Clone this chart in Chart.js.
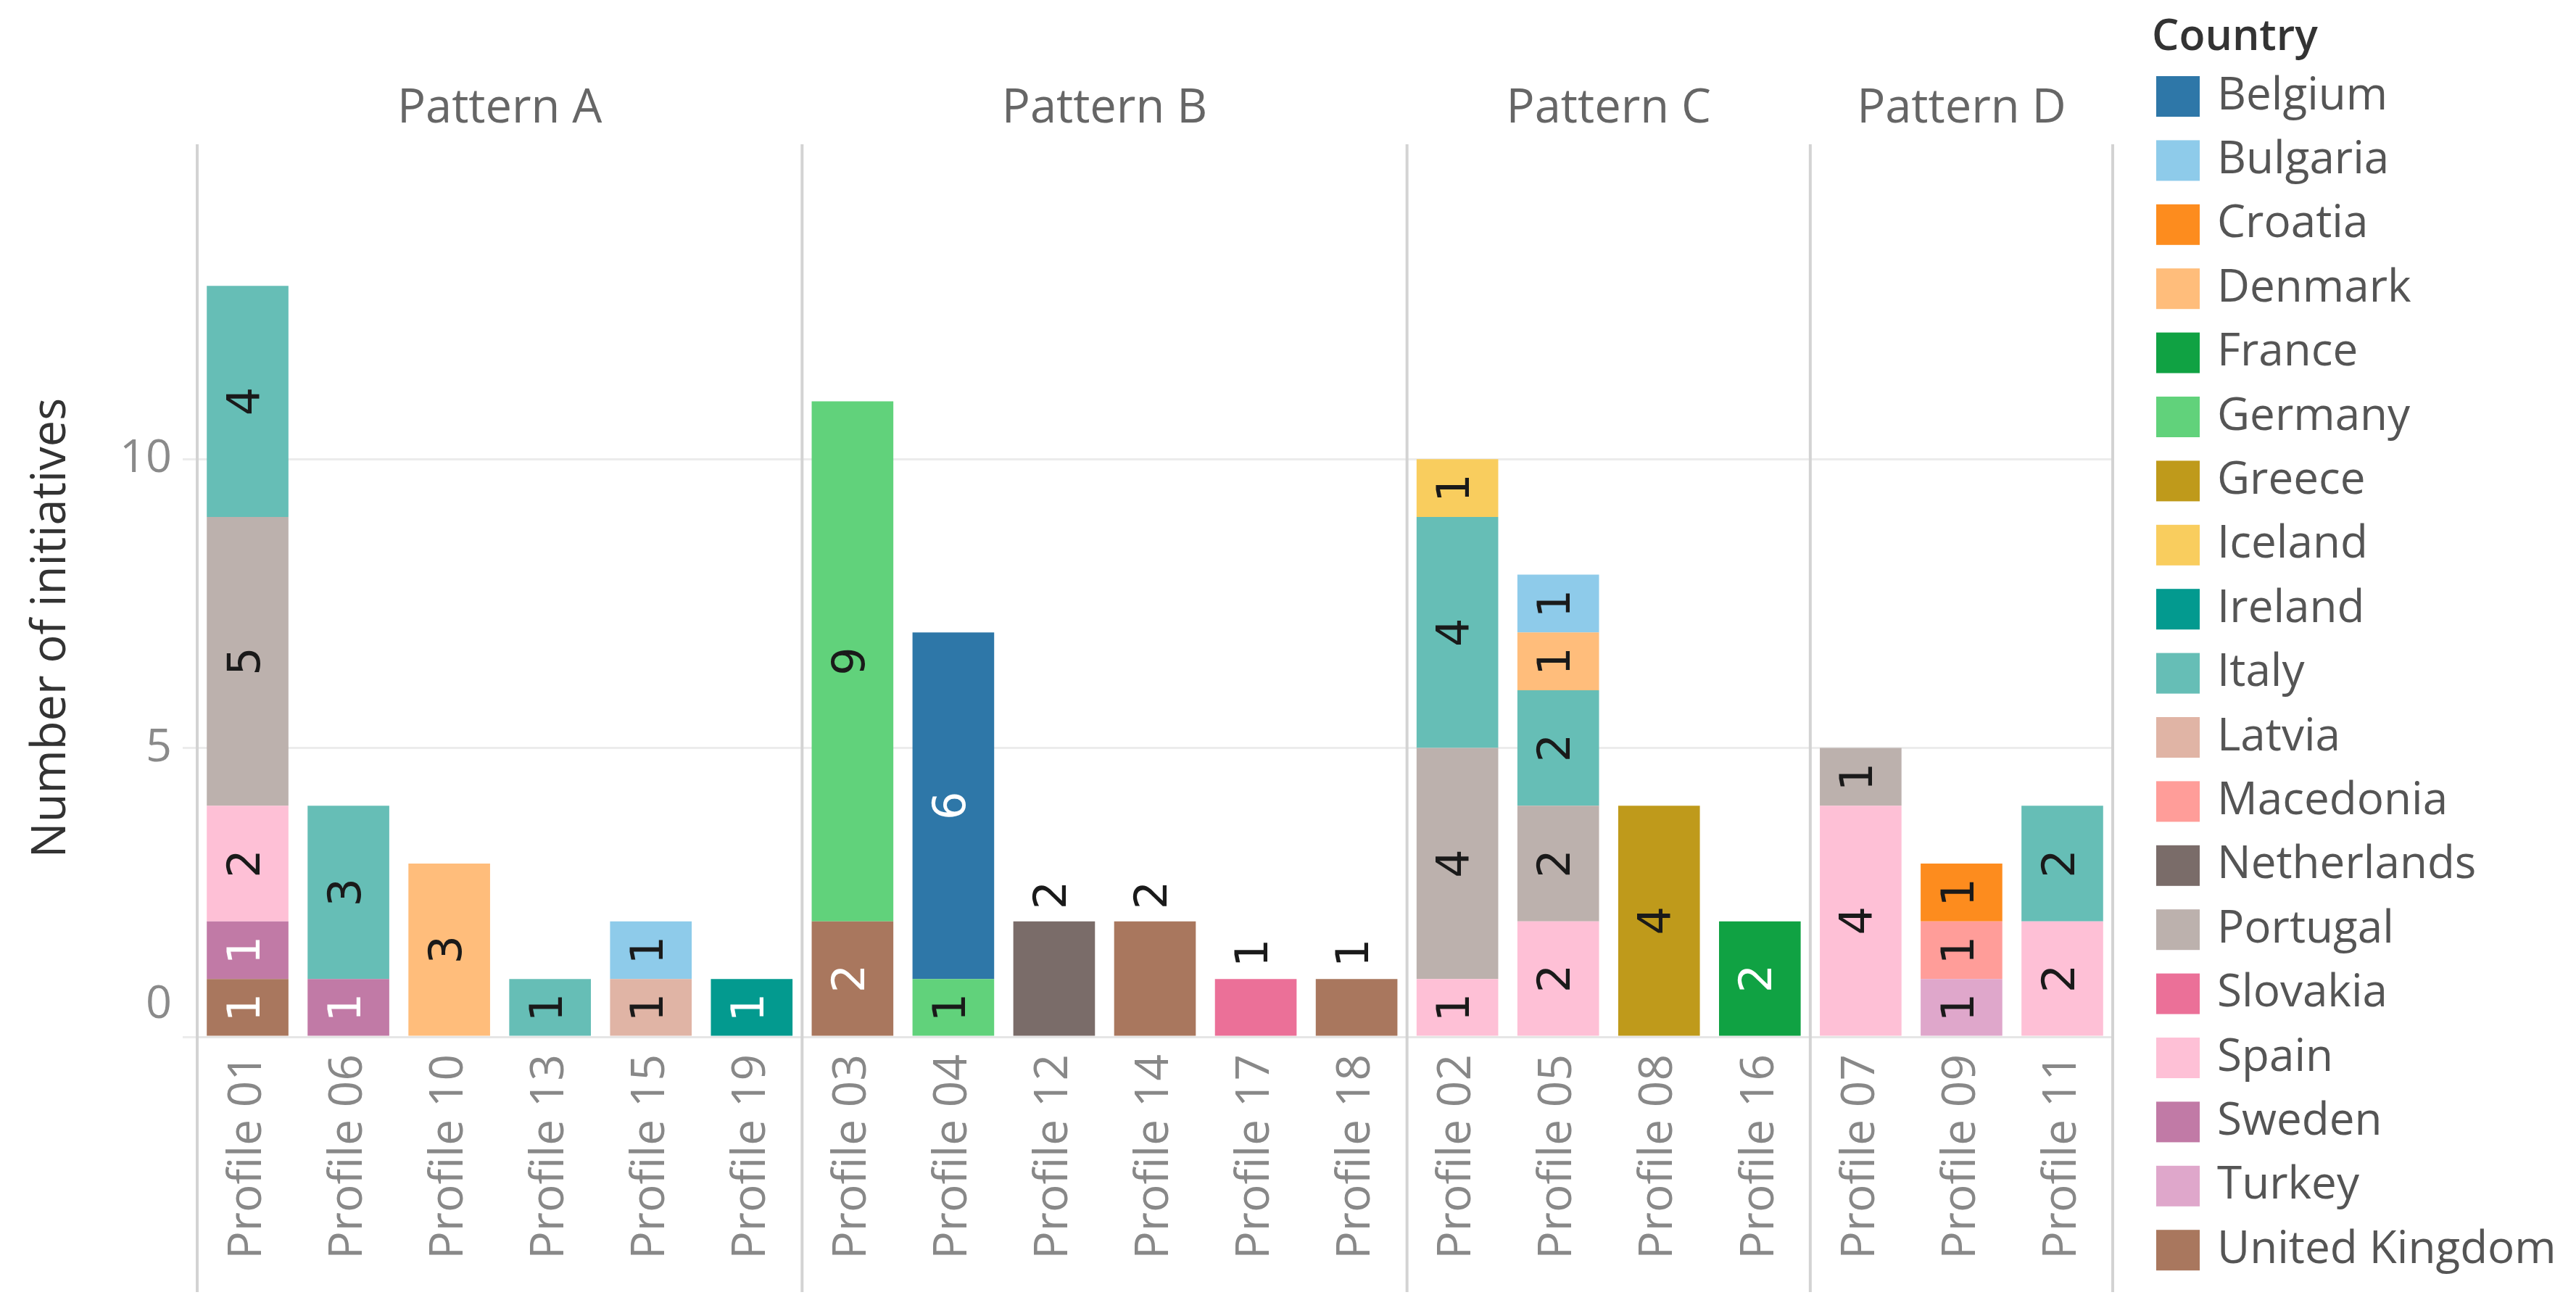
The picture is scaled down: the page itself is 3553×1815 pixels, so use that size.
<!DOCTYPE html>
<html>
<head>
<meta charset="utf-8">
<script src="https://cdn.jsdelivr.net/npm/chart.js@4.4.1/dist/chart.umd.min.js"></script>
<style>
  html, body { margin: 0; padding: 0; background: #fff; }
  #wrap { width: 3553px; height: 1815px; }
</style>
</head>
<body>
<div id="wrap"><canvas id="chart" width="3553" height="1815"></canvas></div>
<script>
const _ = null;

// profiles, in the order they sit on the axis
const profiles = ['Profile 01', 'Profile 06', 'Profile 10', 'Profile 13', 'Profile 15', 'Profile 19',
                  'Profile 03', 'Profile 04', 'Profile 12', 'Profile 14', 'Profile 17', 'Profile 18',
                  'Profile 02', 'Profile 05', 'Profile 08', 'Profile 16',
                  'Profile 07', 'Profile 09', 'Profile 11'];
const profilePattern = ['Pattern A', 'Pattern A', 'Pattern A', 'Pattern A', 'Pattern A', 'Pattern A',
                        'Pattern B', 'Pattern B', 'Pattern B', 'Pattern B', 'Pattern B', 'Pattern B',
                        'Pattern C', 'Pattern C', 'Pattern C', 'Pattern C',
                        'Pattern D', 'Pattern D', 'Pattern D'];

const countries = ['Belgium', 'Bulgaria', 'Croatia', 'Denmark', 'France', 'Germany', 'Greece', 'Iceland',
                   'Ireland', 'Italy', 'Latvia', 'Macedonia', 'Netherlands', 'Portugal', 'Slovakia',
                   'Spain', 'Sweden', 'Turkey', 'United Kingdom'];
const countryColors = ['#2e77a8', '#8ecbea', '#fd8c1e', '#ffbd7b', '#10a243', '#61d27b', '#bf9a1b', '#f9cd5e',
                       '#039a8f', '#66beb6', '#e0b4a5', '#ff9d99', '#7a6c69', '#bcb1ad', '#eb7098',
                       '#fec0d6', '#c17aa6', '#dfa7cb', '#a9775e'];

//                   A: 01 06 10 13 15 19   B: 03 04 12 14 17 18   C: 02 05 08 16   D: 07 09 11
const belgium     = [_, _, _, _, _, _,      _, 6, _, _, _, _,      _, _, _, _,      _, _, _];
const bulgaria    = [_, _, _, _, 1, _,      _, _, _, _, _, _,      _, 1, _, _,      _, _, _];
const croatia     = [_, _, _, _, _, _,      _, _, _, _, _, _,      _, _, _, _,      _, 1, _];
const denmark     = [_, _, 3, _, _, _,      _, _, _, _, _, _,      _, 1, _, _,      _, _, _];
const france      = [_, _, _, _, _, _,      _, _, _, _, _, _,      _, _, _, 2,      _, _, _];
const germany     = [_, _, _, _, _, _,      9, 1, _, _, _, _,      _, _, _, _,      _, _, _];
const greece      = [_, _, _, _, _, _,      _, _, _, _, _, _,      _, _, 4, _,      _, _, _];
const iceland     = [_, _, _, _, _, _,      _, _, _, _, _, _,      1, _, _, _,      _, _, _];
const ireland     = [_, _, _, _, _, 1,      _, _, _, _, _, _,      _, _, _, _,      _, _, _];
const italy       = [4, 3, _, 1, _, _,      _, _, _, _, _, _,      4, 2, _, _,      _, _, 2];
const latvia      = [_, _, _, _, 1, _,      _, _, _, _, _, _,      _, _, _, _,      _, _, _];
const macedonia   = [_, _, _, _, _, _,      _, _, _, _, _, _,      _, _, _, _,      _, 1, _];
const netherlands = [_, _, _, _, _, _,      _, _, 2, _, _, _,      _, _, _, _,      _, _, _];
const portugal    = [5, _, _, _, _, _,      _, _, _, _, _, _,      4, 2, _, _,      1, _, _];
const slovakia    = [_, _, _, _, _, _,      _, _, _, _, 1, _,      _, _, _, _,      _, _, _];
const spain       = [2, _, _, _, _, _,      _, _, _, _, _, _,      1, 2, _, _,      4, _, 2];
const sweden      = [1, 1, _, _, _, _,      _, _, _, _, _, _,      _, _, _, _,      _, _, _];
const turkey      = [_, _, _, _, _, _,      _, _, _, _, _, _,      _, _, _, _,      _, 1, _];
const unitedKingdom = [1, _, _, _, _, _,    2, _, _, 2, _, 1,      _, _, _, _,      _, _, _];

const countryValues = [belgium, bulgaria, croatia, denmark, france, germany, greece, iceland, ireland, italy,
                       latvia, macedonia, netherlands, portugal, slovakia, spain, sweden, turkey, unitedKingdom];

const yTicks = [0, 5, 10];
const yMax = 15.45;

// bars whose single value is printed above the bar instead of inside
const labelsAbove = ['Profile 12', 'Profile 14', 'Profile 17', 'Profile 18'];
const whiteText = ['Belgium', 'France', 'Ireland', 'Sweden', 'United Kingdom'];

const FONT = '"Open Sans", sans-serif';

// pixel edges of each pattern panel
function panelEdges(chart) {
    const x = chart.scales.x;
    const step = x.getPixelForValue(1) - x.getPixelForValue(0);
    const edges = [];
    profilePattern.forEach((p, i) => {
        if (i === 0 || profilePattern[i - 1] !== p) {
            edges.push({ name: p, start: x.getPixelForValue(i) - step / 2 });
        }
    });
    edges.forEach((e, i) => {
        e.end = i < edges.length - 1 ? edges[i + 1].start : x.getPixelForValue(profiles.length - 1) + step / 2;
    });
    return edges;
}

const facetPlugin = {
    id: 'facets',
    beforeDatasetsDraw(chart) {
        const ctx = chart.ctx;
        const area = chart.chartArea;
        const edges = panelEdges(chart);
        ctx.save();
        ctx.strokeStyle = '#d3d3d3';
        ctx.lineWidth = 4;
        const xs = edges.map(e => e.start).concat([edges[edges.length - 1].end]);
        xs.forEach(px => {
            ctx.beginPath();
            ctx.moveTo(px, area.top);
            ctx.lineTo(px, 1782);
            ctx.stroke();
        });
        ctx.restore();
    },
    afterDatasetsDraw(chart) {
        const ctx = chart.ctx;
        chart.data.datasets.forEach((ds, di) => {
            const meta = chart.getDatasetMeta(di);
            meta.data.forEach((bar, i) => {
                const v = ds.data[i];
                if (v == null) return;
                let y = (bar.y + bar.base) / 2;
                let color = whiteText.includes(ds.label) ? '#ffffff' : '#1a1a1a';
                if (labelsAbove.includes(profiles[i])) {
                    y = bar.y - 36;
                    color = '#1a1a1a';
                }
                ctx.save();
                ctx.translate(bar.x, y);
                ctx.rotate(-Math.PI / 2);
                ctx.font = '62px "DejaVu Sans"';
                ctx.textAlign = 'center';
                ctx.textBaseline = 'middle';
                ctx.fillStyle = color;
                ctx.fillText(String(v), 0, 0);
                ctx.restore();
            });
        });
    },
    afterDraw(chart) {
        const ctx = chart.ctx;
        ctx.save();

        // panel headers
        ctx.font = '65px ' + FONT;
        ctx.fillStyle = '#666';
        ctx.textAlign = 'center';
        ctx.textBaseline = 'middle';
        panelEdges(chart).forEach(e => {
            ctx.fillText(e.name, (e.start + e.end) / 2, 150);
        });

        // the zero tick sits a bit above the baseline
        const y = chart.scales.y;
        ctx.font = '63px ' + FONT;
        ctx.fillStyle = '#8a8a8a';
        ctx.textAlign = 'right';
        ctx.fillText('0', 237, y.getPixelForValue(0) - 44);

        // axis title, sits a little below the middle of the plot
        ctx.save();
        ctx.translate(71, 866);
        ctx.rotate(-Math.PI / 2);
        ctx.textAlign = 'center';
        ctx.font = '65px ' + FONT;
        ctx.fillStyle = '#333';
        ctx.fillText('Number of initiatives', 0, 0);
        ctx.restore();

        // legend
        ctx.textAlign = 'left';
        ctx.fillStyle = '#333';
        ctx.font = '600 59px ' + FONT;
        ctx.fillText('Country', 2968, 52);
        ctx.font = '62px ' + FONT;
        countries.forEach((c, i) => {
            const cy = 133 + i * 88.4;
            ctx.fillStyle = countryColors[i];
            ctx.fillRect(2974, cy - 28, 60, 56);
            ctx.fillStyle = '#555';
            ctx.fillText(c, 3058, cy);
        });
        ctx.restore();
    }
};

// stacked from the bottom in reverse alphabetical order
const datasets = countries.map((c, i) => ({
    label: c,
    data: countryValues[i],
    backgroundColor: countryColors[i],
    borderWidth: 0,
    barPercentage: 0.9,
    categoryPercentage: 0.9
})).reverse();

new Chart(document.getElementById('chart').getContext('2d'), {
    type: 'bar',
    data: { labels: profiles, datasets: datasets },
    plugins: [facetPlugin],
    options: {
        responsive: false,
        animation: false,
        devicePixelRatio: 1,
        layout: { padding: { top: 199, right: 639, left: 0, bottom: 30 } },
        plugins: {
            legend: { display: false },
            tooltip: { enabled: false }
        },
        scales: {
            x: {
                stacked: true,
                afterFit: s => { s.height = 355; },
                grid: { display: false, drawTicks: false },
                border: { display: true, color: '#e6e6e6', width: 3 },
                ticks: {
                    autoSkip: false,
                    minRotation: 90,
                    maxRotation: 90,
                    padding: 24,
                    font: { family: FONT, size: 64 },
                    color: '#888'
                }
            },
            y: {
                stacked: true,
                min: 0,
                max: yMax,
                afterBuildTicks: s => { s.ticks = yTicks.map(v => ({ value: v })); },
                afterFit: s => { s.width = 272; },
                grid: { color: '#ececec', lineWidth: 3, tickLength: 20, tickColor: '#ececec' },
                border: { display: false },
                ticks: {
                    padding: 15,
                    font: { family: FONT, size: 63 },
                    color: c => c.tick.value === 0 ? 'rgba(0,0,0,0)' : '#8a8a8a'
                },
                title: { display: false }
            }
        }
    }
});
</script>
</body>
</html>
